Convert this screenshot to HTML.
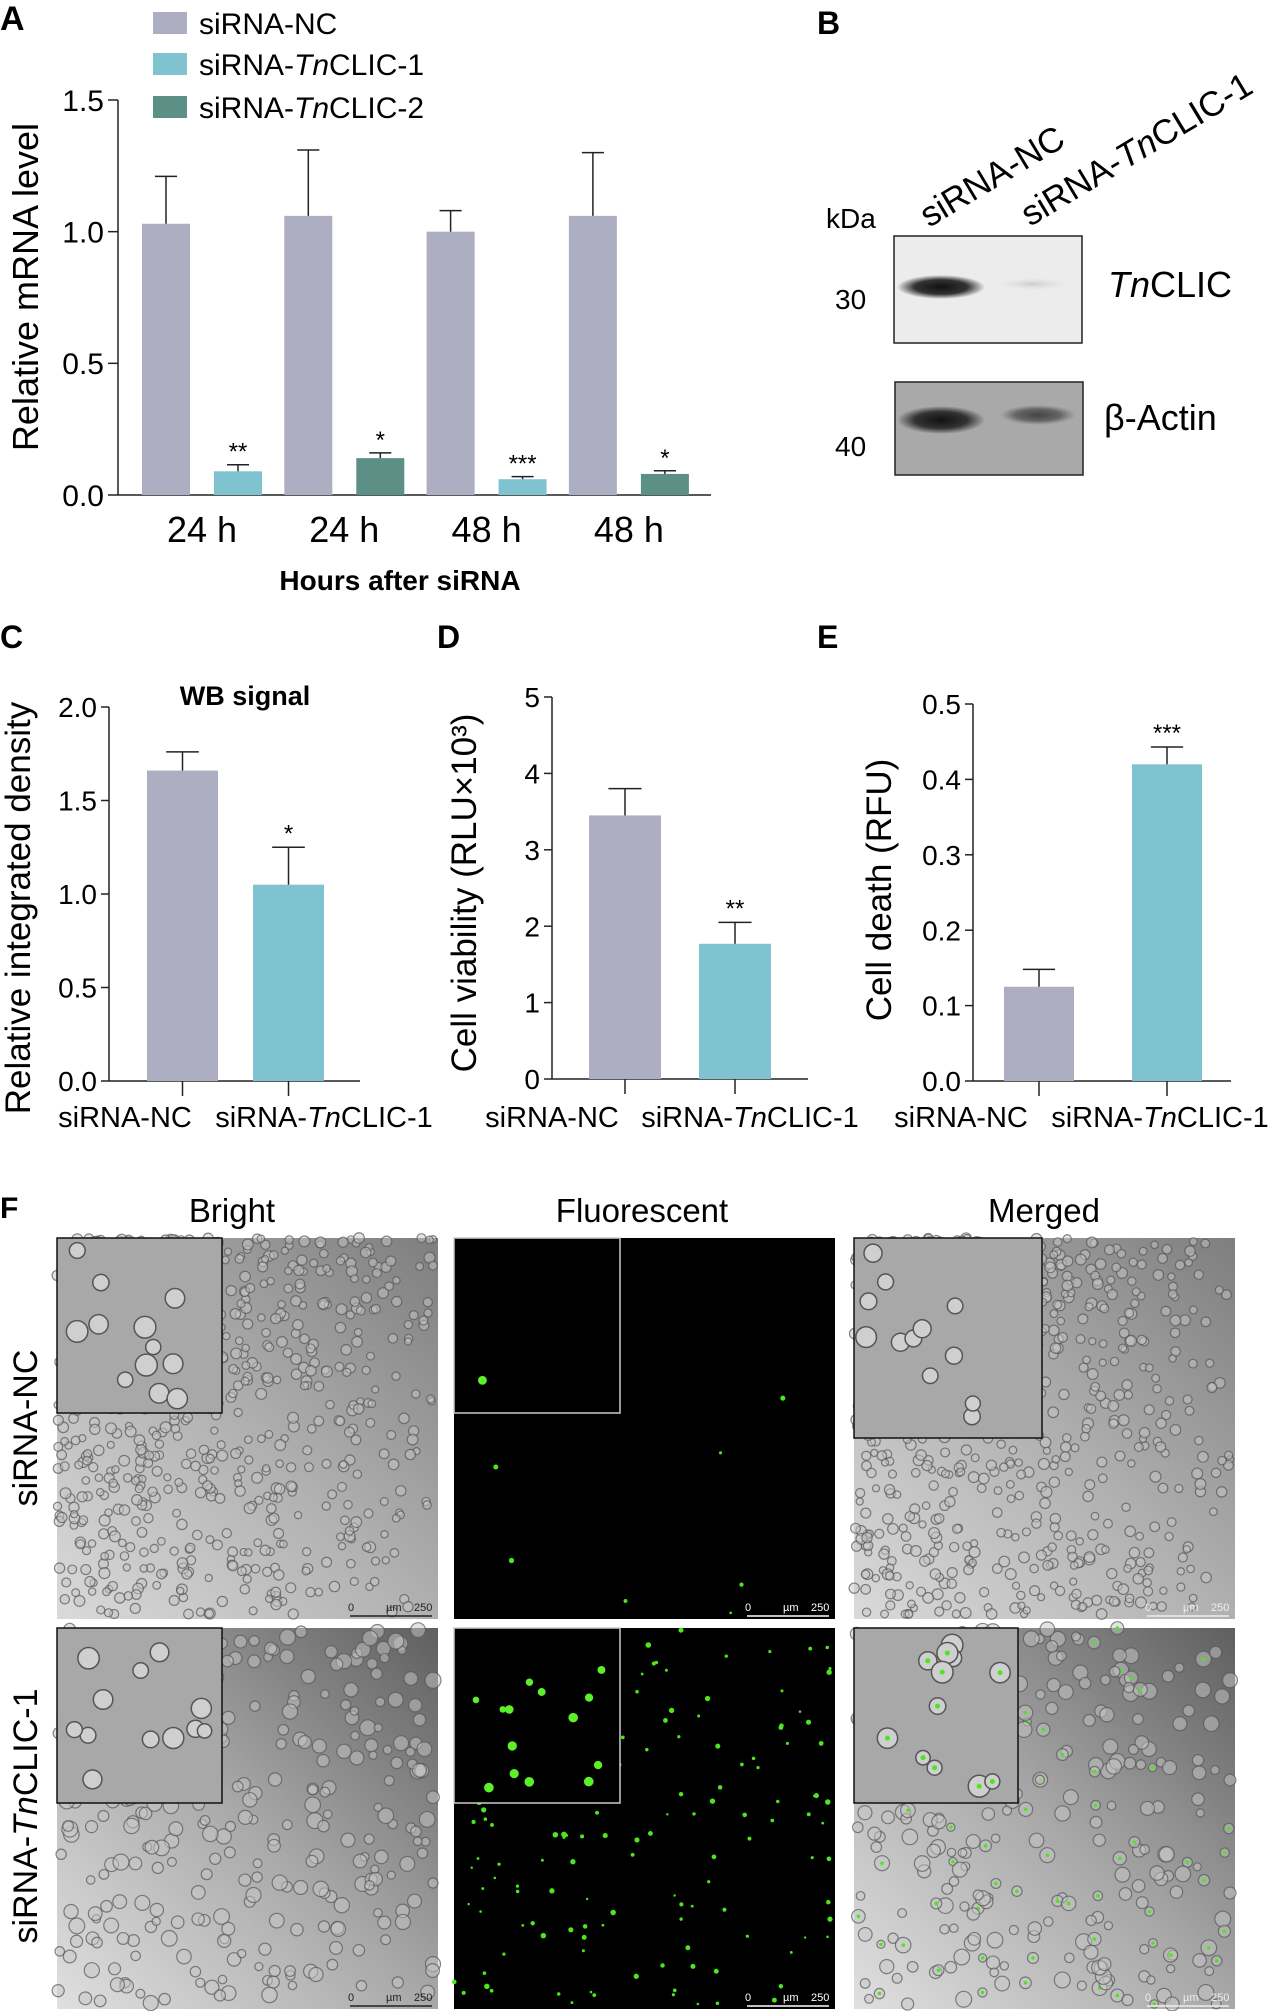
<!DOCTYPE html>
<html><head><meta charset="utf-8">
<style>
html,body{margin:0;padding:0;background:#fff;}
svg{display:block;font-family:"Liberation Sans",Arial,sans-serif;}
</style></head>
<body>
<svg id="fig" width="1280" height="2011" viewBox="0 0 1280 2011" xmlns="http://www.w3.org/2000/svg">
<defs>
<linearGradient id="bf1" x1="1" y1="0" x2="0" y2="1"><stop offset="0" stop-color="#7e7e7e"/><stop offset="0.5" stop-color="#b0b0b0"/><stop offset="1" stop-color="#dadada"/></linearGradient>
<linearGradient id="bf2" x1="1" y1="0" x2="0" y2="1"><stop offset="0" stop-color="#5f5f5f"/><stop offset="0.5" stop-color="#a8a8a8"/><stop offset="1" stop-color="#e0e0e0"/></linearGradient>
<radialGradient id="band"><stop offset="0" stop-color="#111"/><stop offset="0.6" stop-color="#333"/><stop offset="1" stop-color="#333" stop-opacity="0"/></radialGradient>
<radialGradient id="bandFaint"><stop offset="0" stop-color="#ccc"/><stop offset="1" stop-color="#ddd" stop-opacity="0"/></radialGradient>
<radialGradient id="band2"><stop offset="0" stop-color="#444"/><stop offset="0.6" stop-color="#666"/><stop offset="1" stop-color="#777" stop-opacity="0"/></radialGradient>
</defs>
<!-- Panel A -->
<g id="panelA">
  <text x="0" y="30" font-size="34" font-weight="bold">A</text>
  <rect x="153" y="12" width="34" height="22" fill="#aeaec2"/>
  <text x="199" y="34" font-size="30">siRNA-NC</text>
  <rect x="153" y="53" width="34" height="22" fill="#7ec3cf"/>
  <text x="199" y="75" font-size="30">siRNA-<tspan font-style="italic">Tn</tspan>CLIC-1</text>
  <rect x="153" y="96" width="34" height="22" fill="#5c8f85"/>
  <text x="199" y="118" font-size="30">siRNA-<tspan font-style="italic">Tn</tspan>CLIC-2</text>
  <text transform="translate(38,287) rotate(-90)" text-anchor="middle" font-size="36">Relative mRNA level</text>
  <text x="400" y="590" text-anchor="middle" font-size="28" font-weight="bold">Hours after siRNA</text>
</g>
<!-- Panel B -->
<g id="panelB">
  <text x="817" y="34" font-size="32" font-weight="bold">B</text>
  <text x="826" y="228" font-size="28">kDa</text>
  <text transform="translate(929,228) rotate(-31)" font-size="35">siRNA-NC</text>
  <text transform="translate(1030,227) rotate(-31)" font-size="35">siRNA-<tspan font-style="italic">Tn</tspan>CLIC-1</text>
  <rect x="894" y="236" width="188" height="107" fill="#ececec" stroke="#222" stroke-width="1.5"/>
  <ellipse cx="941" cy="287" rx="44" ry="12" fill="url(#band)"/>
  <ellipse cx="1033" cy="284" rx="34" ry="6" fill="url(#bandFaint)"/>
  <rect x="895" y="382" width="188" height="93" fill="#a9a9a9" stroke="#222" stroke-width="1.5"/>
  <ellipse cx="941" cy="420" rx="44" ry="14" fill="url(#band)"/>
  <ellipse cx="1038" cy="415" rx="38" ry="10" fill="url(#band2)"/>
  <text x="835" y="309" font-size="28">30</text>
  <text x="835" y="456" font-size="28">40</text>
  <text x="1108" y="297" font-size="36"><tspan font-style="italic">Tn</tspan>CLIC</text>
  <text x="1104" y="430" font-size="36">β-Actin</text>
</g>
<g id="panelC">
  <text x="0" y="648" font-size="32" font-weight="bold">C</text>
  <text x="245" y="705" text-anchor="middle" font-size="27" font-weight="bold">WB signal</text>
  <text transform="translate(30,908) rotate(-90)" text-anchor="middle" font-size="35">Relative integrated density</text>
</g>
<g id="panelD">
  <text x="437" y="648" font-size="32" font-weight="bold">D</text>
  <text transform="translate(476,893) rotate(-90)" text-anchor="middle" font-size="35">Cell viability (RLU×10³)</text>
</g>
<g id="panelE">
  <text x="817" y="648" font-size="32" font-weight="bold">E</text>
  <text transform="translate(891,890) rotate(-90)" text-anchor="middle" font-size="35">Cell death (RFU)</text>
</g>
<g id="panelF">
  <text x="0" y="1218" font-size="30" font-weight="bold">F</text>
  <text x="232" y="1222" text-anchor="middle" font-size="33">Bright</text>
  <text x="642" y="1222" text-anchor="middle" font-size="33">Fluorescent</text>
  <text x="1044" y="1222" text-anchor="middle" font-size="33">Merged</text>
  <text transform="translate(37,1428) rotate(-90)" text-anchor="middle" font-size="34">siRNA-NC</text>
  <text transform="translate(37,1816) rotate(-90)" text-anchor="middle" font-size="34">siRNA-<tspan font-style="italic">Tn</tspan>CLIC-1</text>
</g>
</svg>
<script>
// ---- Panel A data ----
const aCategories = ["24 h","24 h","48 h","48 h"];
const aNC = [1.03, 1.06, 1.00, 1.06];
const aNCerr = [0.18, 0.25, 0.08, 0.24];
const aKD = [0.09, 0.14, 0.06, 0.08];
const aKDerr = [0.025, 0.02, 0.01, 0.012];
const aKDseries = [1, 2, 1, 2];
const aStars = ["**","*","***","*"];
const aTicks = [0, 0.5, 1.0, 1.5];
const aTickLabels = ["0.0","0.5","1.0","1.5"];
// ---- Panel C ----
const cCategories = ["siRNA-NC","siRNA-TnCLIC-1"];
const cValues = [1.66, 1.05];
const cErr = [0.10, 0.20];
const cStars = ["","*"];
const cTicks = [0, 0.5, 1.0, 1.5, 2.0];
const cTickLabels = ["0.0","0.5","1.0","1.5","2.0"];
// ---- Panel D ----
const dCategories = ["siRNA-NC","siRNA-TnCLIC-1"];
const dValues = [3.45, 1.77];
const dErr = [0.35, 0.28];
const dStars = ["","**"];
const dTicks = [0,1,2,3,4,5];
const dTickLabels = ["0","1","2","3","4","5"];
// ---- Panel E ----
const eCategories = ["siRNA-NC","siRNA-TnCLIC-1"];
const eValues = [0.125, 0.42];
const eErr = [0.023, 0.023];
const eStars = ["","***"];
const eTicks = [0,0.1,0.2,0.3,0.4,0.5];
const eTickLabels = ["0.0","0.1","0.2","0.3","0.4","0.5"];

const NS = "http://www.w3.org/2000/svg";
const COLORS = ["#aeaec2","#7ec3cf","#5c8f85"];
function mk(parent, tag, attrs){
  const e = document.createElementNS(NS, tag);
  for (const k in attrs) e.setAttribute(k, attrs[k]);
  parent.appendChild(e);
  return e;
}
function linScale(d0,d1,r0,r1){ return v => r0 + (v-d0)/(d1-d0)*(r1-r0); }

function drawAxisY(g, x, y, ticks, labels, fs, tickLen){
  const ax = mk(g,'line',{x1:x,x2:x,y1:y(ticks[ticks.length-1]),y2:y(ticks[0]),stroke:'#222','stroke-width':1.5});
  
  
  ticks.forEach((t,i)=>{
    const tl = mk(g,'line',{x1:x-tickLen,x2:x,y1:y(t),y2:y(t),stroke:'#222','stroke-width':1.5});
    
    
    const tx = mk(g,'text',{x:x-tickLen-4,y:y(t)+fs*0.36,'text-anchor':'end','font-size':fs});
    
    
    tx.textContent = labels[i];
  });
}
function bar(g, x, w, y0, yv, yerr, color, name){
  const r = mk(g,'rect',{x:x,y:yv,width:w,height:y0-yv,fill:color});
  
  
  const cx = x + w/2;
  const e1 = mk(g,'line',{x1:cx,x2:cx,y1:yv,y2:yerr,stroke:'#222','stroke-width':1.5});
  
  
  const e2 = mk(g,'line',{x1:cx-w*0.23,x2:cx+w*0.23,y1:yerr,y2:yerr,stroke:'#222','stroke-width':1.5});
  
  
}
function stars(g, cx, y, s, fs){
  if(!s) return;
  const t = mk(g,'text',{x:cx,y:y,'text-anchor':'middle','font-size':fs});
  
  
  t.textContent = s;
}

// Panel A
(function(){
  const g = document.getElementById('panelA');
  const y = linScale(0,1.5,495,100);
  drawAxisY(g,118,y,aTicks,aTickLabels,30,10);
  const xa = mk(g,'line',{x1:118,x2:711,y1:495,y2:495,stroke:'#222','stroke-width':1.5});
  
  
  const x0 = 142, pitch = 142.3, bw = 48, gap = 72;
  aCategories.forEach((c,i)=>{
    const gx = x0 + i*pitch;
    bar(g, gx, bw, 495, y(aNC[i]), y(aNC[i]+aNCerr[i]), COLORS[0], 'bar-nc-'+(i+1));
    bar(g, gx+gap, bw, 495, y(aKD[i]), y(aKD[i]+aKDerr[i]), COLORS[aKDseries[i]], 'bar-knockdown-'+(i+1));
    stars(g, gx+gap+bw/2, y(aKD[i]+aKDerr[i])-5, aStars[i], 24);
    const t = mk(g,'text',{x:gx+(gap+bw)/2,y:542,'text-anchor':'middle','font-size':36});
    
    
    t.textContent = c;
  });
})();

function twoBar(id, axisX, axisTop, axisBot, axisEnd, ticks, labels, vals, errs, st, cats, barX, bw, labX){
  const g = document.getElementById(id);
  const y = linScale(ticks[0],ticks[ticks.length-1],axisBot,axisTop);
  drawAxisY(g,axisX,y,ticks,labels,28,8);
  const xa = mk(g,'line',{x1:axisX,x2:axisEnd,y1:axisBot,y2:axisBot,stroke:'#222','stroke-width':1.5});
  
  
  vals.forEach((v,i)=>{
    bar(g, barX[i], bw, axisBot, y(v), y(v+errs[i]), COLORS[i], 'bar-'+(i===0?'nc':'clic1'));
    stars(g, barX[i]+bw/2, y(v+errs[i])-6, st[i], 24);
    const cx = barX[i]+bw/2;
    const tk = mk(g,'line',{x1:cx,x2:cx,y1:axisBot,y2:axisBot+15,stroke:'#222','stroke-width':1.5});
    
    
  });
  cats.forEach((c,i)=>{
    const t = mk(g,'text',{x:labX[i],y:1127,'text-anchor':'middle','font-size':29});
    
    
    if(c.indexOf('TnCLIC')>=0){
      t.appendChild(document.createTextNode('siRNA-'));
      const ts = document.createElementNS(NS,'tspan'); ts.setAttribute('font-style','italic'); ts.textContent='Tn'; t.appendChild(ts);
      t.appendChild(document.createTextNode('CLIC-1'));
    } else t.textContent = c;
  });
}
twoBar('panelC',109,707,1081,360,cTicks,cTickLabels,cValues,cErr,cStars,cCategories,[147,253],71,[125,324]);
twoBar('panelD',552,697,1079,808,dTicks,dTickLabels,dValues,dErr,dStars,dCategories,[589,699],72,[552,750]);
twoBar('panelE',973,704,1081,1231,eTicks,eTickLabels,eValues,eErr,eStars,eCategories,[1004,1132],70,[961,1160]);

// Panel F microscopy (decorative texture; seeded)
(function(){
  const g = document.getElementById('panelF');
  let seed = 12345;
  const rnd = ()=>{ seed = (seed*1103515245+12345) % 2147483648; return seed/2147483648; };
  const cols = [57,454,854], rows = [1238,1628], W = 381, H = 381;
  const insets = [[165,175],[166,175],[188,200],[165,175],[166,175],[164,175]];
  rows.forEach((ry,ri)=>{
    cols.forEach((cx,ci)=>{
      const panel = mk(g,'g',{});
      const nm = ['bright','fluorescent','merged'][ci]+'-'+(ri===0?'nc':'clic1');
      
      
      const fluo = ci===1;
      mk(panel,'rect',{x:cx,y:ry,width:W,height:H,fill: fluo?'#000':(ri===0?'url(#bf1)':'url(#bf2)')});
      const n = fluo ? (ri===0?12:150) : (ri===0?700:300);
      for(let k=0;k<n;k++){
        let px, py;
        if(!fluo && ri===0){
          px = cx + Math.pow(rnd(),0.7)*W; py = ry + Math.pow(rnd(),1.3)*H;
          px = cx + W - (px-cx);
        } else { px = cx + rnd()*W; py = ry + rnd()*H; }
        if(px>cx+W-5) px = cx+W-5; if(py>ry+H-5) py=ry+H-5;
        if(fluo){
          mk(panel,'circle',{cx:px,cy:py,r:1.2+rnd()*1.6,fill:'#4be61e'});
        } else {
          const r = ri===0 ? 3.5+rnd()*2 : 4+rnd()*4;
          mk(panel,'circle',{cx:px,cy:py,r:r,fill:'#c8c8c8','fill-opacity':0.5,stroke:'#555','stroke-opacity':0.7,'stroke-width':1.2});
          if(ci===2 && ri===1 && rnd()<0.25) mk(panel,'circle',{cx:px,cy:py,r:1.8,fill:'#4be61e'});
        }
      }
      const iw = insets[ri*3+ci][0], ih = insets[ri*3+ci][1];
      mk(panel,'rect',{x:cx,y:ry,width:iw,height:ih,fill: fluo?'#000':'#a8a8a8',stroke: fluo?'#ccc':'#111','stroke-width':1.5});
      const m = fluo ? (ri===0?1:14) : 12;
      for(let k=0;k<m;k++){
        const px = cx+12+rnd()*(iw-24), py = ry+12+rnd()*(ih-24);
        if(fluo) mk(panel,'circle',{cx:px,cy:py,r:3+rnd()*2,fill:'#5cf02a'});
        else {
          mk(panel,'circle',{cx:px,cy:py,r:7+rnd()*4,fill:'#cfcfcf',stroke:'#555','stroke-width':1.5});
          if(ci===2 && ri===1) mk(panel,'circle',{cx:px,cy:py,r:2.5,fill:'#4be61e'});
        }
      }
      const sc = fluo?'#fff':(ci===2?'#eee':'#222');
      mk(panel,'line',{x1:cx+W-88,x2:cx+W-6,y1:ry+H-3,y2:ry+H-3,stroke:sc,'stroke-width':1.5});
      const t0 = mk(panel,'text',{x:cx+W-90,y:ry+H-8,'font-size':11,fill:sc}); t0.textContent='0';
      const t1 = mk(panel,'text',{x:cx+W-52,y:ry+H-8,'font-size':11,fill:sc}); t1.textContent='µm';
      const t2 = mk(panel,'text',{x:cx+W-24,y:ry+H-8,'font-size':11,fill:sc}); t2.textContent='250';
    });
  });
})();
</script>
</body></html>
